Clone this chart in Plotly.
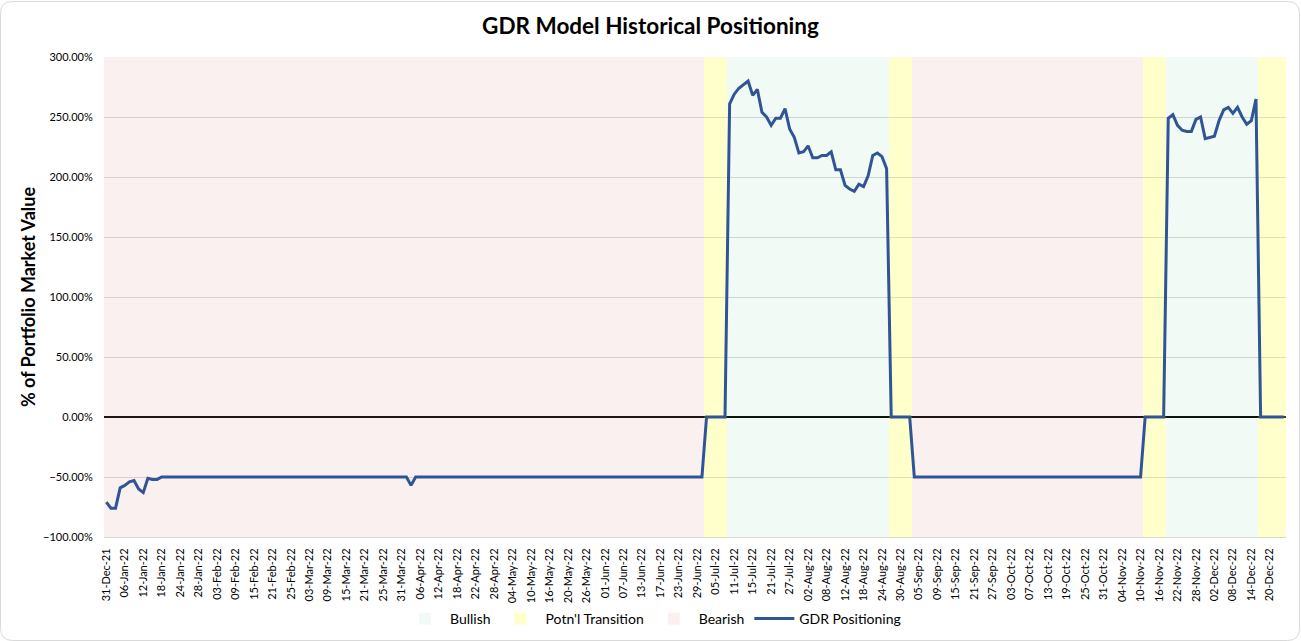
import pandas as pd
import plotly.graph_objects as go

# ---------------- data ----------------
start_date = "2021-12-31"
n_days = 256  # business days 31-Dec-21 .. 23-Dec-22

# regime runs (label, number of business days)
regime_runs = [("Bearish", 130), ("Potn'l Transition", 5), ("Bullish", 35),
               ("Potn'l Transition", 5), ("Bearish", 50), ("Potn'l Transition", 5),
               ("Bullish", 20), ("Potn'l Transition", 6)]

# GDR positioning (% of portfolio market value), read segment by segment
pos_jan = [-71, -76, -76, -59, -57, -54, -53, -60, -63, -51, -52, -52]
pos_bear_a = [-50] * 54
pos_dip = [-57]
pos_bear_b = [-50] * 63
pos_trans_1 = [0] * 5
pos_bull_1 = [261, 269, 274, 277, 280, 268, 273, 254, 250, 243, 249, 249, 257, 240,
              233, 220, 221, 226, 216, 216, 218, 218, 221, 206, 206, 193, 190, 188,
              194, 192, 201, 218, 220, 217, 207]
pos_trans_2 = [0] * 5
pos_bear_c = [-50] * 50
pos_trans_3 = [0] * 5
pos_bull_2 = [249, 252, 243, 239, 238, 238, 248, 250, 232, 233, 234, 247, 256, 258,
              253, 258, 250, 244, 247, 265]
pos_trans_4 = [0] * 6

positioning = (pos_jan + pos_bear_a + pos_dip + pos_bear_b + pos_trans_1 + pos_bull_1
               + pos_trans_2 + pos_bear_c + pos_trans_3 + pos_bull_2 + pos_trans_4)

y_min, y_max = -100, 300

# ---------------- build ----------------
dates = pd.bdate_range(start_date, periods=n_days)
cats = [d.strftime("%d-%b-%y") for d in dates]

regime = []
for lab, n in regime_runs:
    regime += [lab] * n

band_colors = {
    "Bullish": "rgba(125,205,165,0.10)",
    "Potn'l Transition": "rgba(255,255,51,0.25)",
    "Bearish": "rgba(228,155,155,0.15)",
}

fig = go.Figure()
for lab in ["Bullish", "Potn'l Transition", "Bearish"]:
    fig.add_trace(go.Bar(
        x=cats,
        y=[(y_max - y_min) if r == lab else None for r in regime],
        base=y_min,
        width=1,
        name=lab,
        marker=dict(color=band_colors[lab], line=dict(width=0)),
        hoverinfo="skip",
    ))

fig.add_trace(go.Scatter(
    x=cats, y=positioning, mode="lines", name="GDR Positioning",
    line=dict(color="#2F5597", width=3),
))

# target pixel geometry (reference); rendered height appears ~0.991 of layout height
W, H_target = 1301, 641
ys = 647 / 641
H = 647


def Y(py):
    return py * ys


ml, mr = 104, 15
mt, mb = Y(56), H - Y(536)
pw, ph = W - ml - mr, H - mt - mb


def px2paper(px, py):
    return (px - ml) / pw, (H - mb - Y(py)) / ph


def rounded_path(x0, y0, x1, y1, r):
    def P(x, y):
        a, b = px2paper(x, y)
        return f"{a:.5f},{b:.5f}"
    return (f"M {P(x0 + r, y0)} L {P(x1 - r, y0)} Q {P(x1, y0)} {P(x1, y0 + r)} "
            f"L {P(x1, y1 - r)} Q {P(x1, y1)} {P(x1 - r, y1)} L {P(x0 + r, y1)} "
            f"Q {P(x0, y1)} {P(x0, y1 - r)} L {P(x0, y0 + r)} Q {P(x0, y0)} {P(x0 + r, y0)} Z")


fig.update_layout(
    width=W, height=H,
    margin=dict(l=ml, r=mr, t=mt, b=mb),
    paper_bgcolor="white", plot_bgcolor="white",
    font=dict(family="Lato, 'Noto Sans', sans-serif", color="#000000"),
    barmode="overlay", bargap=0,
    title=dict(text="<b>GDR Model Historical Positioning</b>", x=0.5, xanchor="center",
               y=1 - Y(26) / H, yanchor="middle", yref="container",
               font=dict(size=22.5, color="#000000")),
    showlegend=True,
    legend=dict(orientation="h", x=(653 - ml) / pw, xanchor="center",
                y=-(Y(618) - (H - mb)) / ph,
                yanchor="middle", font=dict(size=14, color="#000000"),
                bgcolor="rgba(0,0,0,0)", traceorder="normal", itemwidth=40),
    shapes=[dict(type="path", xref="paper", yref="paper",
                 path=rounded_path(0.5, 0.5, W - 1.5, H_target - 1.5, 12),
                 line=dict(color="#D9D9D9", width=1), layer="above")],
)

fig.update_xaxes(
    type="category", range=[-0.5, n_days - 0.5],
    tickmode="array", tickvals=cats[::4], ticktext=cats[::4],
    tickangle=-90, tickfont=dict(size=11, color="#000000"),
    showgrid=False, showline=True, linecolor="#D9D9D9", linewidth=1,
    ticks="outside", ticklen=6, tickcolor="rgba(0,0,0,0)",
)
fig.update_yaxes(
    range=[y_min, y_max], dtick=50, tickformat=".2f", ticksuffix="%",
    tickfont=dict(size=11, color="#000000"),
    showgrid=True, gridcolor="#D9D9D9", gridwidth=1,
    zeroline=True, zerolinecolor="#000000", zerolinewidth=2,
    ticks="outside", ticklen=8, tickcolor="rgba(0,0,0,0)",
    title=dict(text="<b>% of Portfolio Market Value</b>", font=dict(size=18, color="#000000"),
               standoff=2),
)

fig.write_html(
    "out.html",
    config={"displayModeBar": False},
    post_script=("document.documentElement.style.margin='0';"
                 "document.documentElement.style.overflow='hidden';"
                 "document.body.style.margin='0';document.body.style.overflow='hidden';"),
)
